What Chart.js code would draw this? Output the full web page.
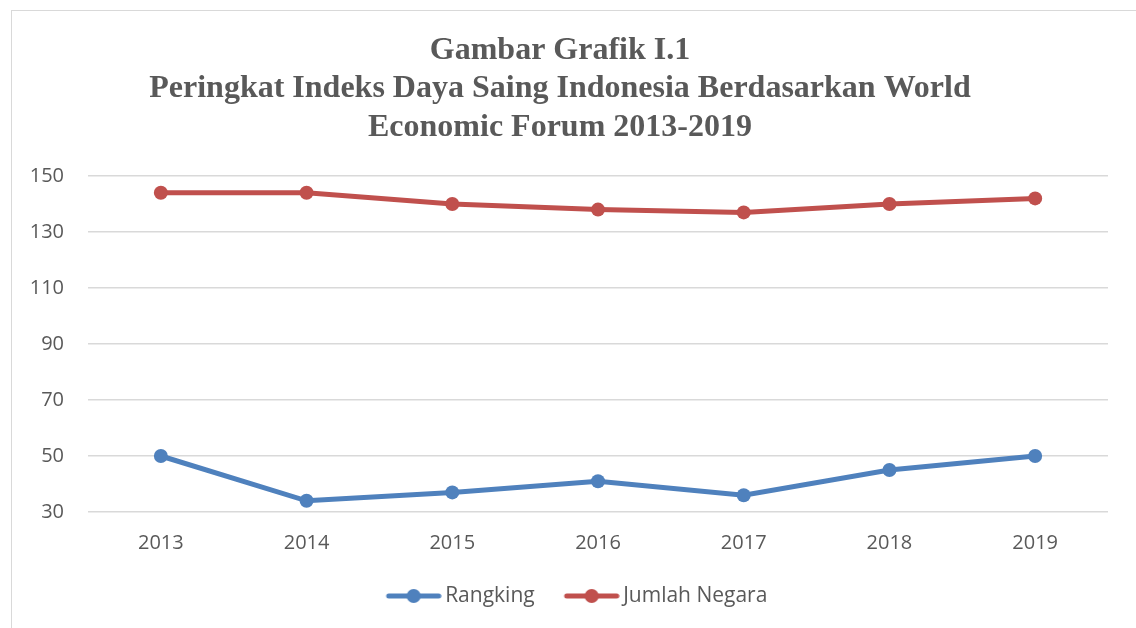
<!DOCTYPE html>
<html>
<head>
<meta charset="utf-8">
<script src="https://cdn.jsdelivr.net/npm/chart.js@4.4.1/dist/chart.umd.min.js"></script>
<style>
    body { margin: 0; background: #ffffff; overflow: hidden; }
    .frame {
        position: absolute; left: 11px; top: 10px;
        width: 1140px; height: 640px;
        border: 1.5px solid #d9d9d9;
    }
    .wrap { position: absolute; left: 0; top: 0; width: 1136px; height: 628px; }
</style>
</head>
<body>
<div class="frame"></div>
<div class="wrap"><canvas id="wefChart"></canvas></div>
<script>
// ================================
// DATA
// ================================

const years = ["2013", "2014", "2015", "2016", "2017", "2018", "2019"];

const rangking = [50, 34, 37, 41, 36, 45, 50];

const jumlahNegara = [144, 144, 140, 138, 137, 140, 142];

const titleLines = [
    "Gambar Grafik I.1",
    "Peringkat Indeks Daya Saing Indonesia Berdasarkan World",
    "Economic Forum 2013-2019"
];

const BLUE = "#4f81bd";
const RED = "#c0504d";
const TEXT = "#595959";

// legend marker: line with a dot (blank space on the left keeps items apart)
function legendMarker(color) {
    const c = document.createElement("canvas");
    c.width = 82;
    c.height = 16;
    const g = c.getContext("2d");
    g.strokeStyle = color;
    g.lineWidth = 5;
    g.lineCap = "round";
    g.beginPath();
    g.moveTo(29, 8);
    g.lineTo(79, 8);
    g.stroke();
    g.fillStyle = color;
    g.beginPath();
    g.arc(54, 8, 7, 0, Math.PI * 2);
    g.fill();
    return c;
}

// title drawn at the reference's own centre line
const titlePlugin = {
    id: "titleLines",
    afterDraw(chart) {
        const ctx = chart.ctx;
        ctx.save();
        ctx.font = "bold 32px 'Liberation Serif'";
        ctx.fillStyle = TEXT;
        ctx.textAlign = "center";
        ctx.textBaseline = "middle";
        titleLines.forEach((t, i) => {
            ctx.fillText(t, 560, 50.5 + i * 38.5);
        });
        ctx.restore();
    }
};

new Chart(document.getElementById("wefChart"), {
    type: "line",

    data: {
        labels: years,
        datasets: [
            {
                label: "Rangking",
                data: rangking,
                borderColor: BLUE,
                backgroundColor: BLUE,
                borderWidth: 5,
                pointRadius: 7,
                pointHoverRadius: 7,
                pointBackgroundColor: BLUE,
                pointBorderWidth: 0,
                tension: 0
            },
            {
                label: "Jumlah Negara",
                data: jumlahNegara,
                borderColor: RED,
                backgroundColor: RED,
                borderWidth: 5,
                pointRadius: 7,
                pointHoverRadius: 7,
                pointBackgroundColor: RED,
                pointBorderWidth: 0,
                tension: 0
            }
        ]
    },

    options: {
        responsive: true,
        maintainAspectRatio: false,
        animation: false,
        layout: {
            padding: { top: 176, left: 26, right: 28, bottom: 11.5 }
        },
        plugins: {
            legend: {
                position: "bottom",
                labels: {
                    usePointStyle: true,
                    pointStyleWidth: 68,
                    padding: 10,
                    color: TEXT,
                    font: { family: "'Open Sans'", size: 21 },
                    generateLabels(chart) {
                        return chart.data.datasets.map((ds, i) => ({
                            text: ds.label,
                            fillStyle: ds.borderColor,
                            strokeStyle: ds.borderColor,
                            fontColor: TEXT,
                            lineWidth: 0,
                            pointStyle: legendMarker(ds.borderColor),
                            datasetIndex: i,
                            hidden: false
                        }));
                    }
                }
            },
            tooltip: { enabled: false }
        },
        scales: {
            x: {
                offset: true,
                afterFit(axis) { axis.height = 63.5; },
                grid: { display: false, drawTicks: false },
                border: { display: false },
                ticks: {
                    color: TEXT,
                    padding: 19,
                    font: { family: "'Open Sans'", size: 20 }
                }
            },
            y: {
                min: 30,
                max: 150,
                afterFit(axis) { axis.width = 62; },
                grid: { color: "#d9d9d9", lineWidth: 1.5, drawTicks: false },
                border: { display: false },
                ticks: {
                    stepSize: 20,
                    color: TEXT,
                    padding: 24,
                    font: { family: "'Open Sans'", size: 20 }
                }
            }
        }
    },

    plugins: [titlePlugin]
});
</script>
</body>
</html>
